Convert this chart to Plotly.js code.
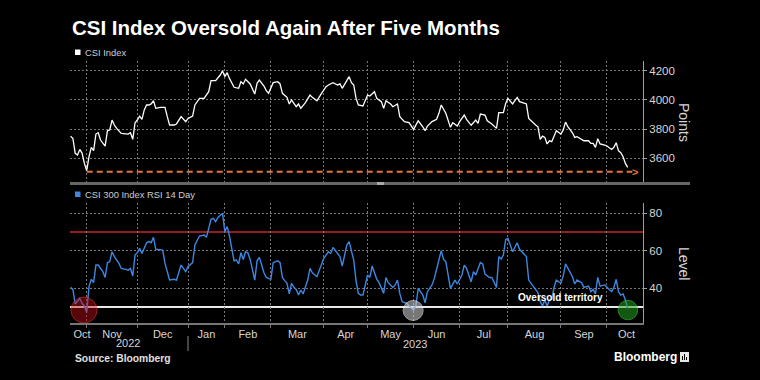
<!DOCTYPE html>
<html><head><meta charset="utf-8">
<script src="https://cdn.plot.ly/plotly-3.0.1.min.js"></script>
<style>html,body{margin:0;padding:0;background:#000;}#chart{width:760px;height:380px;}</style>
</head><body><div id="chart"></div>
<script>
// x = trading-day number counted from 21 Oct 2022
const csiDay = [0,1,2,3,4,5,6,7,8,9,10,11,12,13,15,16,17,18,19,20,22,23,25,26,27,28,29,30,31,32,33,34,35,36,37,39,41,42,43,45,46,48,50,51,53,54,56,58,60,61,62,63,65,66,67,68,69,71,73,74,75,76,78,79,80,81,82,84,85,86,88,90,91,92,94,95,96,97,98,99,100,102,104,105,107,109,111,112,114,116,117,118,120,121,122,123,124,125,127,129,130,132,133,135,136,137,139,140,142,143,145,147,149,151,153,154,155,157,159,160,161,162,163,165,166,168,169,171,172,174,176,177,178,180,181,183,185,186,188,189,190,192,193,194,195,197,198,199,201,202,203,204,205,206,207,208,209,210,211,213,214,215,216,218,219,220,222,223,225,226,227,228,229,230,232,233,235,236,237,238,239,240,241,242];
const csiValue = [3752,3736,3634,3622,3661,3634,3565,3515,3611,3675,3652,3766,3775,3725,3684,3789,3794,3862,3828,3805,3771,3771,3766,3775,3730,3844,3862,3889,3867,3931,3965,3965,3972,3994,3942,3949,3949,3885,3828,3828,3835,3885,3851,3873,3889,3965,4010,4010,4056,4131,4131,4131,4170,4198,4159,4186,4147,4086,4079,4125,4109,4141,4109,4079,4040,4113,4136,4095,4063,4045,4118,4125,4109,4045,4017,3972,3999,3976,3953,3972,3942,3981,4033,4017,3994,4045,4090,4102,4118,4102,4109,4079,4136,4159,4118,4102,4010,3965,3958,4033,4026,4056,4010,3988,3942,3994,3972,3953,3972,3885,3851,3844,3798,3857,3816,3789,3821,3851,3867,3908,3965,3935,3908,3812,3844,3821,3851,3896,3867,3826,3862,3839,3903,3896,3857,3835,3805,3912,3912,3976,4010,3972,3999,4017,3988,3976,3972,3873,3839,3828,3816,3730,3752,3743,3698,3720,3714,3752,3789,3766,3794,3848,3816,3775,3743,3748,3730,3720,3720,3702,3702,3675,3734,3698,3691,3684,3661,3675,3707,3652,3638,3611,3565,3538];
const rsiDay = [0,1,2,3,4,5,6,7,8,9,10,11,12,14,15,16,17,18,19,21,22,24,25,26,27,28,29,30,31,33,34,35,36,37,39,40,41,43,45,46,48,50,51,53,54,56,58,59,60,61,62,63,64,66,67,68,69,70,71,72,73,74,75,76,77,78,79,80,81,82,83,84,85,87,88,90,91,92,93,94,95,96,97,98,99,100,101,103,104,105,107,109,110,112,113,114,116,117,118,120,121,122,123,124,125,126,127,129,130,131,133,134,136,137,138,140,141,142,143,144,146,147,149,150,151,153,154,155,157,158,159,161,162,163,165,167,168,170,171,172,174,175,176,178,179,180,182,183,185,186,187,188,189,190,192,193,194,195,197,198,199,201,202,203,204,205,206,207,208,209,210,211,213,214,215,216,218,219,220,222,223,225,226,227,228,229,230,232,233,235,236,237,238,239,240,241,242];
const rsiValue = [40.5,39.4,31.6,32.9,34.6,32,30.6,27,40.9,44.8,43,52.4,52.4,48.9,45.8,53.7,54.2,59.5,56.9,53.3,50.6,50.1,49.7,50.6,46.6,57.8,59,61.3,58.6,64.3,64.9,64.3,67.2,60.8,60.4,60.4,53.3,44.4,44.8,44.4,52.4,48.9,51.5,53.7,63.1,67.9,68.4,67.2,72,76.8,77.3,75.5,77.8,80,70.2,72.9,68,62,54.7,55.1,53,59,55.4,59.5,59,55.4,49.7,44.4,54.7,56.5,52.4,48.3,45.8,44.8,53.7,54.7,53.7,45.8,44.1,42.7,37,42.7,40.5,39.4,36.4,39.1,37,44.4,50.6,48.3,46.2,52.4,56,59.5,58.6,61.8,58.3,56.9,51.9,63.1,64.9,60,55,44,37.3,36.4,36.4,47.1,45.8,51.9,44.8,43,37.3,45.8,43,40.5,41.8,44.4,37.3,32.9,32,30.6,28.4,31,40,36.4,32.3,38.2,41.8,45.3,49.8,60.1,55.4,54.2,40,44.4,42.3,47.1,52.4,50.6,43.5,48.9,47.1,53.7,53,47.6,45.8,45.8,40.5,56.9,55.6,57.7,66.1,66.6,59.5,62.2,64.3,60.8,58.3,56.9,44.4,41.2,39.4,37.7,32.9,30.6,33.8,30.6,33.8,34.1,40.5,44.4,42.7,46.6,53,50.6,46.2,42.3,44.4,43,40.5,41.2,38.2,39.4,37,45.8,41.2,41.8,40.5,38.2,40.5,44.8,38.2,36.4,37,33.8,29.3];

const monthStartDay = [7,29,51,67,87,110,129,149,169,190,213,233];
const monthLabelDay = [5,18,40,59,77,98.5,119.5,139,159,179.5,201.5,223,241.5];
const monthLabels = ['Oct','Nov','Dec','Jan','Feb','Mar','Apr','May','Jun','Jul','Aug','Sep','Oct'];
const yearLabels = ['2022','2023'];
const yearLabelDay = [25,149.7];
const csiTicks = [3600,3800,4000,4200];
const rsiTicks = [40,60,80];
const overboughtLevel = 70;
const oversoldLevel = 30;
const lowDay = 7, lowValue = 3508, lineEndDay = 244, arrowDay = 245.3;
const oversoldDay = [5.8,148.8,242.1];
const oversoldMark = [28.4,28.2,28.4];
const circleFill = ['rgba(200,18,22,0.62)','rgba(215,215,215,0.78)','rgba(36,165,36,0.75)'];
const circleEdge = ['rgba(230,50,50,0.9)','rgba(240,240,240,0.9)','rgba(60,200,60,0.9)'];
const circleSize = [26,20,19.5];

const L=70,R=643,T=61,B=323;
const PX = x => (x-L)/(R-L);
const PY = y => (B-y)/(B-T);
const FONT = 'Liberation Sans, Arial, sans-serif';
const grid = '#777777';
const gdash = '2px,2px';
const xr = [-0.26,248.65];

const traces = [
  {x:csiDay,y:csiValue,xaxis:'x2',yaxis:'y2',mode:'lines',line:{color:'#ffffff',width:1.3},hoverinfo:'skip'},
  {x:[lowDay,lineEndDay],y:[lowValue,lowValue],xaxis:'x2',yaxis:'y2',mode:'lines',line:{color:'#e8743b',width:1.8,dash:'6px,4px'},hoverinfo:'skip'},
  {x:rsiDay,y:rsiValue,xaxis:'x',yaxis:'y',mode:'lines',line:{color:'#3d87e0',width:1.4},hoverinfo:'skip'},
  {x:oversoldDay,y:oversoldMark,xaxis:'x',yaxis:'y',mode:'markers',marker:{size:circleSize,color:circleFill,line:{color:circleEdge,width:1}},hoverinfo:'skip'}
];

const yBase = {side:'right',showgrid:true,gridcolor:grid,griddash:gdash,gridwidth:1,zeroline:false,
  showline:true,linecolor:'#a0a0a0',linewidth:1,ticks:'outside',ticklen:3,tickcolor:'#a0a0a0',
  tickfont:{size:11.5,color:'#d6d6d6',family:FONT},tickmode:'array'};

const layout = {
  width:760,height:380,paper_bgcolor:'#000',plot_bgcolor:'#000',
  margin:{l:L,r:760-R,t:T,b:380-B},showlegend:false,
  font:{family:FONT,color:'#d6d6d6'},
  title:{text:'CSI Index Oversold Again After Five Months',font:{size:20.5,color:'#ffffff',family:FONT,weight:'bold'},
    x:72/760,xanchor:'left',xref:'container',y:1-28/380,yanchor:'middle',yref:'container'},
  xaxis:{domain:[0,1],anchor:'y',range:xr,tickmode:'array',tickvals:monthLabelDay,ticktext:monthLabels,ticks:'',
    showgrid:false,zeroline:false,showline:true,linecolor:'#777',linewidth:2,tickfont:{size:11,color:'#d6d6d6',family:FONT},
    minor:{tickmode:'array',tickvals:monthStartDay,showgrid:true,gridcolor:grid,griddash:gdash,gridwidth:1,ticks:'outside',ticklen:3,tickcolor:'#777'}},
  xaxis2:{domain:[0,1],anchor:'y2',range:xr,tickmode:'array',tickvals:monthStartDay,showticklabels:false,ticks:'',
    showgrid:true,gridcolor:grid,griddash:gdash,gridwidth:1,zeroline:false,showline:false},
  yaxis:Object.assign({},yBase,{domain:[0,(B-203)/(B-T)],anchor:'x',range:[21.5,85.5],tickvals:rsiTicks}),
  yaxis2:Object.assign({},yBase,{domain:[(B-183)/(B-T),1],anchor:'x2',range:[3431,4266],tickvals:csiTicks}),
  shapes:[
    {type:'line',xref:'paper',yref:'y',x0:0,x1:1,y0:overboughtLevel,y1:overboughtLevel,line:{color:'#c8282d',width:1.5},layer:'below'},
    {type:'line',xref:'paper',yref:'y',x0:0,x1:1,y0:oversoldLevel,y1:oversoldLevel,line:{color:'#e8e8e8',width:2},layer:'below'},
    {type:'line',xref:'paper',yref:'paper',x0:PX(70),x1:PX(690),y0:PY(183.5),y1:PY(183.5),line:{color:'#666',width:3}},
    {type:'line',xref:'paper',yref:'paper',x0:PX(377),x1:PX(384),y0:PY(183.5),y1:PY(183.5),line:{color:'#aaa',width:3}},
    {type:'line',xref:'paper',yref:'paper',x0:PX(188),x1:PX(188),y0:PY(336),y1:PY(351),line:{color:'#888',width:1}},
    {type:'rect',xref:'paper',yref:'paper',x0:PX(75),x1:PX(80.5),y0:PY(55),y1:PY(49.5),fillcolor:'#fff',line:{width:0}},
    {type:'rect',xref:'paper',yref:'paper',x0:PX(75),x1:PX(80.5),y0:PY(197),y1:PY(191.5),fillcolor:'#3d87e0',line:{width:0}},
    {type:'rect',xref:'paper',yref:'paper',x0:PX(680),x1:PX(689),y0:PY(362),y1:PY(352),fillcolor:'#e6e6e6',line:{width:0}},
    {type:'line',xref:'paper',yref:'paper',x0:PX(682.5),x1:PX(682.5),y0:PY(360),y1:PY(356),line:{color:'#000',width:1}},
    {type:'line',xref:'paper',yref:'paper',x0:PX(684.5),x1:PX(684.5),y0:PY(360),y1:PY(354),line:{color:'#000',width:1}},
    {type:'line',xref:'paper',yref:'paper',x0:PX(686.5),x1:PX(686.5),y0:PY(360),y1:PY(357),line:{color:'#000',width:1}}
  ],
  annotations:[
    {text:'CSI Index',xref:'paper',yref:'paper',x:PX(82.5),y:PY(52),xanchor:'left',yanchor:'middle',showarrow:false,font:{size:9.4,color:'#cfcfcf'}},
    {text:'CSI 300 Index RSI 14 Day',xref:'paper',yref:'paper',x:PX(82.5),y:PY(194),xanchor:'left',yanchor:'middle',showarrow:false,font:{size:9.4,color:'#cfcfcf'}},
    {text:'Points',xref:'paper',yref:'paper',x:PX(684),y:PY(122),textangle:90,xanchor:'center',yanchor:'middle',showarrow:false,font:{size:14,color:'#d6d6d6'}},
    {text:'Level',xref:'paper',yref:'paper',x:PX(684),y:PY(263),textangle:90,xanchor:'center',yanchor:'middle',showarrow:false,font:{size:14,color:'#d6d6d6'}},
    {text:'Oversold territory',xref:'x',yref:'y',x:212.6,y:35.3,xanchor:'center',yanchor:'middle',showarrow:false,font:{size:10,color:'#ffffff',weight:'bold'}},
    {text:yearLabels[0],xref:'x',yref:'paper',x:yearLabelDay[0],y:PY(343),xanchor:'center',yanchor:'middle',showarrow:false,font:{size:11,color:'#d6d6d6'}},
    {text:yearLabels[1],xref:'x',yref:'paper',x:yearLabelDay[1],y:PY(344),xanchor:'center',yanchor:'middle',showarrow:false,font:{size:11,color:'#d6d6d6'}},
    {text:'Source: Bloomberg',xref:'paper',yref:'paper',x:PX(72.5),y:PY(358),xanchor:'left',yanchor:'middle',showarrow:false,font:{size:10.3,color:'#e0e0e0',weight:'bold'}},
    {text:'Bloomberg',xref:'paper',yref:'paper',x:PX(611.5),y:PY(357),xanchor:'left',yanchor:'middle',showarrow:false,font:{size:12,color:'#ffffff',weight:'bold'}},
    {text:'>',xref:'x2',yref:'y2',x:arrowDay,y:lowValue,xanchor:'center',yanchor:'middle',showarrow:false,font:{size:11,color:'#e8743b',weight:'bold'}}
  ]
};
Plotly.newPlot('chart',traces,layout,{staticPlot:true,displayModeBar:false});
</script></body></html>
